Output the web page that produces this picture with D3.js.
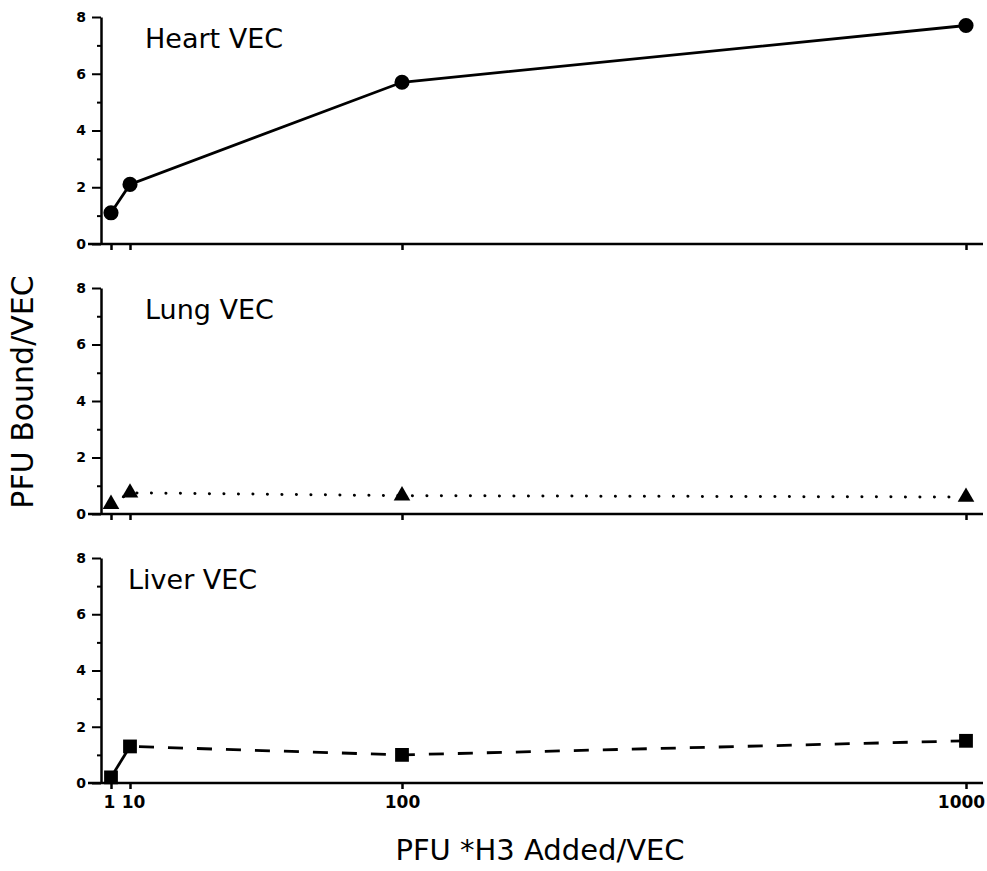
<!DOCTYPE html>
<html>
<head>
<meta charset="utf-8">
<script src="https://cdn.jsdelivr.net/npm/d3@7"></script>
<style>
  body { margin: 0; background: #fff; }
  svg text { font-family: "DejaVu Sans", sans-serif; fill: #000; }
  .tick text { font-weight: bold; }
</style>
</head>
<body>
<div id="chart"></div>
<script>
// PFU added per VEC (x positions) and PFU bound per VEC for each tissue
var doses = [1, 10, 100, 1000];
var heartBound = [1.1, 2.1, 5.7, 7.7];
var lungBound = [0.35, 0.75, 0.65, 0.6];
var liverBound = [0.2, 1.3, 1.0, 1.5];
var panelNames = ["Heart VEC", "Lung VEC", "Liver VEC"];
var yMajor = [0, 2, 4, 6, 8];
var yMinor = [1, 3, 5, 7];
var xTickLabels = ["1", "10", "100", "1000"];

var width = 987, height = 871;

var svg = d3.select("#chart").append("svg")
    .attr("width", width)
    .attr("height", height);

// the x axis of the original is neither linear nor log, so map the ticks piecewise
var x = d3.scaleLinear()
    .domain(doses)
    .range([111, 130, 402, 966]);

var axisX0 = 101;

var panels = [
    { name: panelNames[0], values: heartBound, top: 17, bottom: 244, titleX: 145, marker: "circle", dash: null },
    { name: panelNames[1], values: lungBound, top: 288, bottom: 514, titleX: 145, marker: "triangle", dash: "0.1,14.4" },
    { name: panelNames[2], values: liverBound, top: 558, bottom: 783, titleX: 128, marker: "square", dash: "15,14" }
];

panels.forEach(function (p, pi) {
    var y = d3.scaleLinear().domain([0, 8]).range([p.bottom, p.top]);
    var g = svg.append("g");

    // x baseline runs a little past both ends of the data
    g.append("line")
        .attr("x1", 88).attr("x2", 983)
        .attr("y1", y(0)).attr("y2", y(0))
        .attr("stroke", "#000").attr("stroke-width", 2.5);

    // x ticks (labels only on the bottom panel)
    var xAxis = d3.axisBottom(x)
        .tickValues(doses)
        .tickSize(6)
        .tickSizeOuter(0)
        .tickFormat(function (d, i) { return pi == 2 ? xTickLabels[i] : ""; });
    var gx = g.append("g")
        .attr("transform", "translate(0," + y(0) + ")")
        .call(xAxis);
    gx.select(".domain").remove();
    gx.selectAll(".tick line").attr("stroke-width", 2.5);
    gx.selectAll(".tick text")
        .style("font-size", "17px")
        .attr("dy", "0.95em")
        .attr("dx", function (d) {
            if (d == 1) return -2;
            if (d == 10) return 3;
            if (d == 1000) return -5;
            return 0;
        });

    // y axis: major ticks labelled, minor ticks short
    var gy = g.append("g")
        .attr("transform", "translate(" + axisX0 + ",0)")
        .call(d3.axisLeft(y).tickValues(yMajor).tickSize(9).tickSizeOuter(0));
    gy.select(".domain").attr("stroke-width", 2.5);
    gy.selectAll(".tick line").attr("stroke-width", 2);
    gy.selectAll(".tick text").style("font-size", "14px").attr("x", -15);

    var gm = g.append("g")
        .attr("transform", "translate(" + axisX0 + ",0)")
        .call(d3.axisLeft(y).tickValues(yMinor).tickSize(4).tickFormat(""));
    gm.select(".domain").remove();
    gm.selectAll(".tick line").attr("stroke-width", 2);

    g.append("text")
        .attr("x", p.titleX)
        .attr("y", p.top + 31)
        .attr("font-size", 27)
        .text(p.name);

    var line = d3.line()
        .x(function (d) { return x(d.dose); })
        .y(function (d) { return y(d.v); });

    var pts = p.values.map(function (v, i) { return { dose: doses[i], v: v }; });
    var sw = p.marker == "triangle" ? 3 : 2.8;

    if (p.marker == "square") {
        // the first step of the liver curve is drawn solid, the rest dashed
        g.append("path")
            .datum(pts.slice(0, 2))
            .attr("d", line)
            .attr("fill", "none").attr("stroke", "#000").attr("stroke-width", sw);
        g.append("path")
            .datum(pts.slice(1))
            .attr("d", line)
            .attr("fill", "none").attr("stroke", "#000").attr("stroke-width", sw)
            .attr("stroke-dasharray", p.dash)
            .attr("stroke-dashoffset", -9);
    } else {
        var path = g.append("path")
            .datum(pts)
            .attr("d", line)
            .attr("fill", "none")
            .attr("stroke", "#000")
            .attr("stroke-width", sw);
        if (p.dash) path.attr("stroke-dasharray", p.dash).attr("stroke-linecap", "round");
    }

    var symType = p.marker == "circle" ? d3.symbolCircle :
        (p.marker == "triangle" ? d3.symbolTriangle : d3.symbolSquare);
    var symSize = p.marker == "circle" ? 180 : (p.marker == "triangle" ? 120 : 190);

    g.selectAll(".pt")
        .data(pts)
        .enter()
        .append("path")
        .attr("class", "pt")
        .attr("transform", function (d) {
            return "translate(" + x(d.dose) + "," + y(d.v) + ")";
        })
        .attr("d", d3.symbol().type(symType).size(symSize))
        .attr("fill", "#000");
});

svg.append("text")
    .attr("transform", "translate(33,392) rotate(-90)")
    .attr("text-anchor", "middle")
    .attr("font-size", 30)
    .text("PFU Bound/VEC");

svg.append("text")
    .attr("x", 540)
    .attr("y", 860)
    .attr("text-anchor", "middle")
    .attr("font-size", 29)
    .text("PFU *H3 Added/VEC");
</script>
</body>
</html>
